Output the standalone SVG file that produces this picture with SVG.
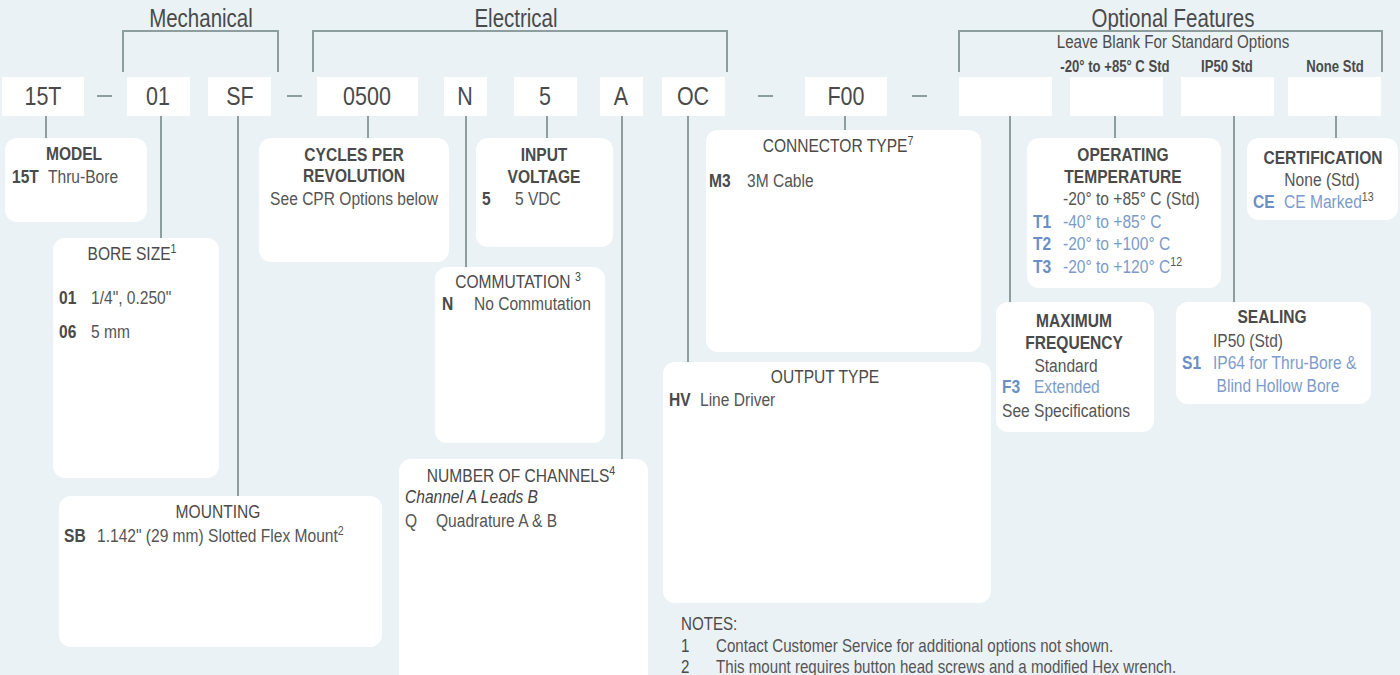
<svg xmlns="http://www.w3.org/2000/svg" width="1400" height="675" viewBox="0 0 1400 675">
<style>
text{font-family:"Liberation Sans Narrow","Liberation Sans",Arial,sans-serif;transform-box:fill-box;transform-origin:left center;transform:scaleX(0.82)}
.cd,.hd,.sub,.std,.t,.tn,.bc,.mid{text-anchor:middle;transform-origin:center}
.ln{stroke:#8e9d9d;stroke-width:2;fill:none}
.cb{fill:#ffffff}
.box{fill:#ffffff}
.cd{font-size:25px;fill:#4a4a4a;transform:scaleX(0.86)}
.hd{font-size:25px;fill:#4a4a4a}
.sub{font-size:18.5px;fill:#4d4d4d}
.std{font-size:16px;font-weight:bold;fill:#4a4a4a}
.t{font-size:19px;font-weight:bold;fill:#4a4a4a}
.tn{font-size:19px;fill:#4a4a4a}
.b{font-size:19px;fill:#555555}
.bc{font-size:19px;fill:#555555}
.k{font-size:19px;font-weight:bold;fill:#4a4a4a}
.bk{font-size:19px;font-weight:bold;fill:#6a8fc3}
.bl{font-size:19px;fill:#7c9bcb}
.it{font-size:19px;font-style:italic;fill:#444444}
.n{font-size:18px;fill:#555555;transform:scaleX(0.84)}
.nk{font-size:18px;fill:#4a4a4a;transform:scaleX(0.84)}
.sp{font-size:13px}
</style>
<rect x="0" y="0" width="1400" height="675" fill="#eaf2f6"/>

<g id="headers">
<text class="hd" x="201" y="27">Mechanical</text>
<text class="hd" x="516" y="27">Electrical</text>
<text class="hd" x="1173" y="27">Optional Features</text>
<text class="sub" x="1173" y="48">Leave Blank For Standard Options</text>
<text class="std" x="1115" y="72">-20° to +85° C Std</text>
<text class="std" x="1227" y="72">IP50 Std</text>
<text class="std" x="1335" y="72">None Std</text>
</g>

<g id="connectors">
<path class="ln" d="M123,72 V31 H278 V72"/>
<path class="ln" d="M313,72 V31 H727 V72"/>
<path class="ln" d="M959,72 V31 H1382 V72"/>
<path class="ln" d="M97,96 H112 M287,96 H302 M758,96 H773 M912,96 H927"/>
<path class="ln" d="M46,116 V138 M161,116 V238 M238,116 V496 M368,116 V138 M466,116 V267 M547,116 V138 M622,116 V459 M688,116 V362 M845,116 V130 M1010,116 V302 M1115,116 V138 M1234,116 V302 M1336,116 V138"/>
</g>

<g id="code-15T"><rect class="cb" x="2" y="77" width="82" height="39"/><text class="cd" x="43" y="105">15T</text></g>
<g id="code-01"><rect class="cb" x="127" y="77" width="63" height="39"/><text class="cd" x="158" y="105">01</text></g>
<g id="code-SF"><rect class="cb" x="208" y="77" width="63" height="39"/><text class="cd" x="240" y="105">SF</text></g>
<g id="code-0500"><rect class="cb" x="317" y="77" width="101" height="39"/><text class="cd" x="367" y="105">0500</text></g>
<g id="code-N"><rect class="cb" x="444" y="77" width="43" height="39"/><text class="cd" x="465" y="105">N</text></g>
<g id="code-5"><rect class="cb" x="514" y="77" width="63" height="39"/><text class="cd" x="545" y="105">5</text></g>
<g id="code-A"><rect class="cb" x="600" y="77" width="43" height="39"/><text class="cd" x="621" y="105">A</text></g>
<g id="code-OC"><rect class="cb" x="662" y="77" width="63" height="39"/><text class="cd" x="693" y="105">OC</text></g>
<g id="code-F00"><rect class="cb" x="805" y="77" width="82" height="39"/><text class="cd" x="846" y="105">F00</text></g>
<g id="code-opt1"><rect class="cb" x="959" y="77" width="93" height="39"/></g>
<g id="code-opt2"><rect class="cb" x="1070" y="77" width="93" height="39"/></g>
<g id="code-opt3"><rect class="cb" x="1181" y="77" width="93" height="39"/></g>
<g id="code-opt4"><rect class="cb" x="1288" y="77" width="93" height="39"/></g>

<g id="model">
<rect class="box" x="5" y="138" width="142" height="84" rx="12"/>
<text class="t" x="74" y="160">MODEL</text>
<text class="k" x="12" y="183">15T</text>
<text class="b" x="48" y="183">Thru-Bore</text>
</g>

<g id="bore-size">
<rect class="box" x="53" y="238" width="166" height="240" rx="12"/>
<text class="tn" x="132" y="260">BORE SIZE<tspan class="sp" dy="-7">1</tspan></text>
<text class="k" x="59" y="304">01</text>
<text class="b" x="91" y="304">1/4", 0.250"</text>
<text class="k" x="59" y="338">06</text>
<text class="b" x="91" y="338">5 mm</text>
</g>

<g id="mounting">
<rect class="box" x="59" y="496" width="323" height="151" rx="12"/>
<text class="tn" x="218" y="518">MOUNTING</text>
<text class="k" x="64" y="542">SB</text>
<text class="b" x="97" y="542">1.142" (29 mm) Slotted Flex Mount<tspan class="sp" dy="-7">2</tspan></text>
</g>

<g id="cpr">
<rect class="box" x="259" y="138" width="190" height="124" rx="12"/>
<text class="t" x="354" y="161">CYCLES PER</text>
<text class="t" x="354" y="182">REVOLUTION</text>
<text class="bc" x="354" y="205">See CPR Options below</text>
</g>

<g id="input-voltage">
<rect class="box" x="476" y="138" width="137" height="109" rx="12"/>
<text class="t" x="544" y="161">INPUT</text>
<text class="t" x="544" y="183">VOLTAGE</text>
<text class="k" x="482" y="205">5</text>
<text class="b" x="515" y="205">5 VDC</text>
</g>

<g id="commutation">
<rect class="box" x="435" y="267" width="170" height="176" rx="12"/>
<text class="tn" x="518" y="288">COMMUTATION <tspan class="sp" dy="-7">3</tspan></text>
<text class="k" x="442" y="310">N</text>
<text class="b" x="474" y="310">No Commutation</text>
</g>

<g id="channels">
<rect class="box" x="399" y="459" width="249" height="230" rx="12"/>
<text class="tn" x="521" y="482">NUMBER OF CHANNELS<tspan class="sp" dy="-7">4</tspan></text>
<text class="it" x="405" y="503">Channel A Leads B</text>
<text class="b" x="405" y="527">Q</text>
<text class="b" x="436" y="527">Quadrature A &amp; B</text>
</g>

<g id="connector-type">
<rect class="box" x="706" y="130" width="275" height="222" rx="12"/>
<text class="tn" x="838" y="152">CONNECTOR TYPE<tspan class="sp" dy="-7">7</tspan></text>
<text class="k" x="709" y="187">M3</text>
<text class="b" x="747" y="187">3M Cable</text>
</g>

<g id="output-type">
<rect class="box" x="663" y="362" width="328" height="241" rx="12"/>
<text class="tn" x="825" y="383">OUTPUT TYPE</text>
<text class="k" x="669" y="406">HV</text>
<text class="b" x="700" y="406">Line Driver</text>
</g>

<g id="operating-temperature">
<rect class="box" x="1027" y="138" width="194" height="150" rx="12"/>
<text class="t" x="1123" y="161">OPERATING</text>
<text class="t" x="1123" y="183">TEMPERATURE</text>
<text class="b" x="1063" y="205">-20° to +85° C (Std)</text>
<text class="bk" x="1033" y="228">T1</text>
<text class="bl" x="1063" y="228">-40° to +85° C</text>
<text class="bk" x="1033" y="250">T2</text>
<text class="bl" x="1063" y="250">-20° to +100° C</text>
<text class="bk" x="1033" y="273">T3</text>
<text class="bl" x="1063" y="273">-20° to +120° C<tspan class="sp" dy="-7" fill="#555555">12</tspan></text>
</g>

<g id="certification">
<rect class="box" x="1247" y="138" width="151" height="82" rx="12"/>
<text class="t" x="1323" y="164">CERTIFICATION</text>
<text class="bc" x="1322" y="186">None (Std)</text>
<text class="bk" x="1253" y="208">CE</text>
<text class="bl" x="1284" y="208">CE Marked<tspan class="sp" dy="-7" fill="#555555">13</tspan></text>
</g>

<g id="maximum-frequency">
<rect class="box" x="996" y="302" width="158" height="130" rx="12"/>
<text class="t" x="1074" y="327">MAXIMUM</text>
<text class="t" x="1074" y="349">FREQUENCY</text>
<text class="bc" x="1066" y="372">Standard</text>
<text class="bk" x="1002" y="393">F3</text>
<text class="bl" x="1034" y="393">Extended</text>
<text class="b" x="1002" y="417">See Specifications</text>
</g>

<g id="sealing">
<rect class="box" x="1176" y="302" width="195" height="102" rx="12"/>
<text class="t" x="1272" y="323">SEALING</text>
<text class="bc" x="1248" y="347">IP50 (Std)</text>
<text class="bk" x="1182" y="369">S1</text>
<text class="bl" x="1213" y="369">IP64 for Thru-Bore &amp;</text>
<text class="bl mid" x="1278" y="392">Blind Hollow Bore</text>
</g>

<g id="notes">
<text class="nk" x="681" y="630">NOTES:</text>
<text class="nk" x="681" y="652">1</text>
<text class="n" x="716" y="652">Contact Customer Service for additional options not shown.</text>
<text class="nk" x="681" y="673">2</text>
<text class="n" x="716" y="673">This mount requires button head screws and a modified Hex wrench.</text>
</g>
</svg>
